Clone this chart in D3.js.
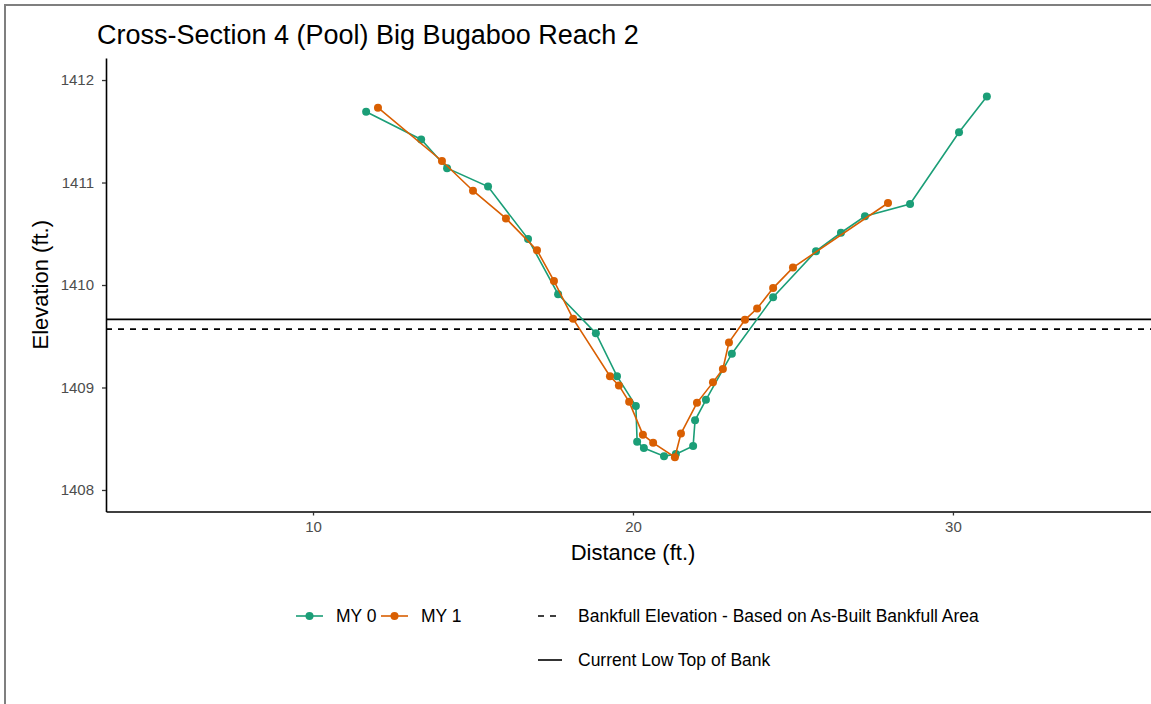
<!DOCTYPE html>
<meta charset="utf-8">
<head>
    <title>Cross-Section 4 (Pool)</title>
    <script src="https://d3js.org/d3.v7.min.js"></script>
</head>

<style>
body { margin: 0; background: #ffffff; }
svg { display: block; font-family: "Liberation Sans", Arial, sans-serif; }
.tick text { fill: #4d4d4d; font-size: 15px; }
.tick line { stroke: #333333; stroke-width: 1.3; }
</style>

<body>

<svg></svg>

<script>

// MY 0 survey (distance ft, elevation ft)
let my0Dist = [11.66, 13.38, 14.19, 15.47, 16.72, 17.66, 18.84, 19.50, 20.09, 20.13, 20.34, 20.97, 21.34, 21.88, 21.94, 22.28, 23.09, 24.38, 25.72, 26.50, 27.25, 28.66, 30.19, 31.06];
let my0Elev = [1411.69, 1411.42, 1411.14, 1410.96, 1410.45, 1409.91, 1409.53, 1409.11, 1408.82, 1408.47, 1408.41, 1408.33, 1408.35, 1408.43, 1408.68, 1408.88, 1409.33, 1409.88, 1410.33, 1410.51, 1410.67, 1410.79, 1411.49, 1411.84];

// MY 1 survey
let my1Dist = [12.03, 14.03, 15.00, 16.03, 17.00, 17.53, 18.13, 19.28, 19.56, 19.88, 20.31, 20.63, 21.31, 21.50, 22.00, 22.50, 22.81, 23.00, 23.50, 23.88, 24.38, 25.00, 27.97];
let my1Elev = [1411.73, 1411.21, 1410.92, 1410.65, 1410.34, 1410.04, 1409.67, 1409.11, 1409.02, 1408.86, 1408.54, 1408.46, 1408.32, 1408.55, 1408.85, 1409.05, 1409.18, 1409.44, 1409.66, 1409.77, 1409.97, 1410.17, 1410.80];

let bankfullElev = 1409.57;
let lowTopBank = 1409.665;

let xTicks = [10, 20, 30];
let yTicks = [1408, 1409, 1410, 1411, 1412];

let seriesNames = ["MY 0", "MY 1"];
let seriesColors = ["#1b9e77", "#d95f02"];

let W = 1151, H = 704;
let margin = {top: 58, right: 0, bottom: 704 - 511.5, left: 106};
let width = W - margin.left - margin.right;
let height = H - margin.top - margin.bottom;

let svg = d3.select("svg")
    .attr("width", W)
    .attr("height", H);

// outer frame (only top and left edges visible)
svg.append("path")
    .attr("d", "M5," + H + "V5H" + W)
    .attr("fill", "none")
    .attr("stroke", "#7f7f7f")
    .attr("stroke-width", 2);

let g = svg.append("g")
    .attr("transform", "translate(" + margin.left + "," + margin.top + ")");

let x = d3.scaleLinear().domain([3.53, 36.19]).range([0, width]);
let y = d3.scaleLinear().domain([1407.79, 1412.215]).range([height, 0]);

// reference lines
g.append("line")
    .attr("x1", 0).attr("x2", width)
    .attr("y1", y(bankfullElev)).attr("y2", y(bankfullElev))
    .attr("stroke", "#000").attr("stroke-width", 1.6)
    .attr("stroke-dasharray", "6,6");

g.append("line")
    .attr("x1", 0).attr("x2", width)
    .attr("y1", y(lowTopBank)).attr("y2", y(lowTopBank))
    .attr("stroke", "#000").attr("stroke-width", 1.6);

let series = [
  d3.zip(my0Dist, my0Elev),
  d3.zip(my1Dist, my1Elev)
];

let line = d3.line()
    .x(function(d) { return x(d[0]); })
    .y(function(d) { return y(d[1]); });

series.forEach(function(pts, i) {
  g.append("path")
    .datum(pts)
    .attr("fill", "none")
    .attr("stroke", seriesColors[i])
    .attr("stroke-width", 1.6)
    .attr("d", line);

  g.selectAll(".pt" + i)
    .data(pts)
    .enter()
    .append("circle")
    .attr("class", "pt" + i)
    .attr("cx", function(d) { return x(d[0]); })
    .attr("cy", function(d) { return y(d[1]); })
    .attr("r", 4)
    .attr("fill", seriesColors[i]);
});

// axes
let xAxis = g.append("g")
    .attr("transform", "translate(0," + height + ")")
    .call(d3.axisBottom(x).tickValues(xTicks).tickFormat(d3.format("d"))
          .tickSize(4).tickSizeOuter(0).tickPadding(6));

let yAxis = g.append("g")
    .call(d3.axisLeft(y).tickValues(yTicks).tickFormat(d3.format("d"))
          .tickSize(4).tickSizeOuter(0).tickPadding(8));

[xAxis, yAxis].forEach(function(a) {
  a.select(".domain").attr("stroke", "#000").attr("stroke-width", 1.6);
});

// title and axis labels
svg.append("text")
    .attr("x", 97).attr("y", 44)
    .attr("font-size", 27)
    .attr("fill", "#000")
    .text("Cross-Section 4 (Pool) Big Bugaboo Reach 2");

svg.append("text")
    .attr("x", margin.left + x(20)).attr("y", 560)
    .attr("text-anchor", "middle")
    .attr("font-size", 22)
    .text("Distance (ft.)");

svg.append("text")
    .attr("transform", "translate(48," + (margin.top + height / 2) + ") rotate(-90)")
    .attr("text-anchor", "middle")
    .attr("font-size", 22)
    .text("Elevation (ft.)");

// legend
let leg = svg.append("g").attr("font-size", 17.5).attr("fill", "#000");
let keyX = [296, 381];
let textX = [336, 421];
seriesNames.forEach(function(name, i) {
  leg.append("line")
    .attr("x1", keyX[i]).attr("x2", keyX[i] + 27)
    .attr("y1", 616).attr("y2", 616)
    .attr("stroke", seriesColors[i]).attr("stroke-width", 1.6);
  leg.append("circle")
    .attr("cx", keyX[i] + 13.5).attr("cy", 616).attr("r", 4)
    .attr("fill", seriesColors[i]);
  leg.append("text")
    .attr("x", textX[i]).attr("y", 622)
    .text(name);
});

leg.append("line")
  .attr("x1", 538).attr("x2", 562)
  .attr("y1", 616).attr("y2", 616)
  .attr("stroke", "#000").attr("stroke-width", 1.6)
  .attr("stroke-dasharray", "6,6");
leg.append("text")
  .attr("x", 578).attr("y", 622)
  .text("Bankfull Elevation - Based on As-Built Bankfull Area");

leg.append("line")
  .attr("x1", 538).attr("x2", 562)
  .attr("y1", 660).attr("y2", 660)
  .attr("stroke", "#000").attr("stroke-width", 1.6);
leg.append("text")
  .attr("x", 578).attr("y", 666)
  .text("Current Low Top of Bank");

</script>

</body>
